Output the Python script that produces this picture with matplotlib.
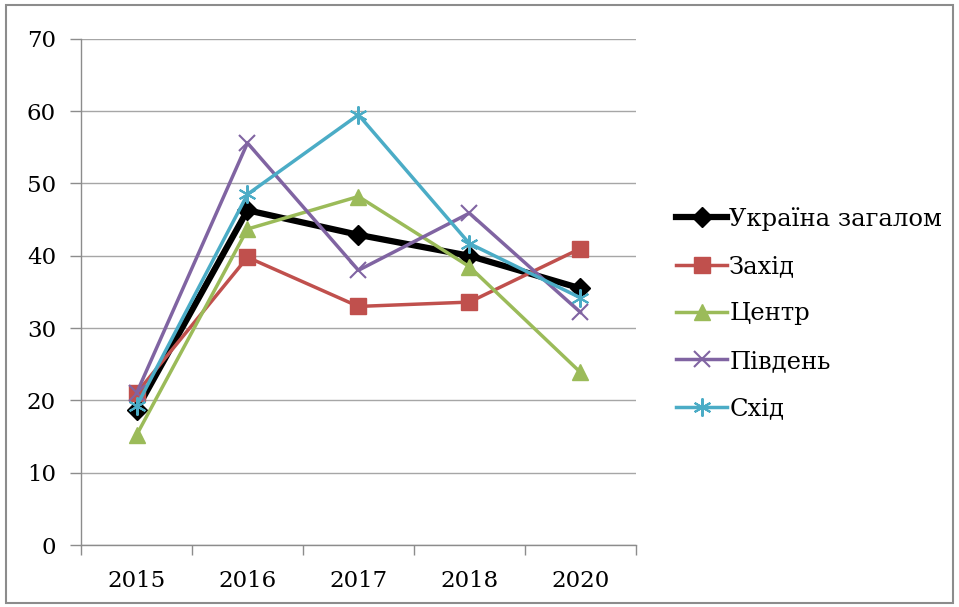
import matplotlib
matplotlib.use("Agg")
import matplotlib.pyplot as plt
from matplotlib.patches import Rectangle
import numpy as np

years = ["2015", "2016", "2017", "2018", "2020"]
ukraine = [18.7, 46.3, 42.9, 40.0, 35.5]
west = [21.0, 39.8, 33.0, 33.6, 41.0]
centre = [15.2, 43.7, 48.2, 38.5, 23.9]
south = [21.0, 55.6, 38.0, 45.9, 32.2]
east = [19.2, 48.5, 59.5, 41.7, 34.2]
series_names = ["Україна загалом", "Захід", "Центр", "Південь", "Схід"]

plt.rcParams['font.family'] = ['DejaVu Serif']

fig = plt.figure(figsize=(9.59, 6.07), dpi=100)
ax = fig.add_axes([0.0845, 0.102, 0.5785, 0.834])

x = np.arange(len(years))
styles = [
    dict(color="black", marker="D", ms=10, lw=4.5, mec="black"),
    dict(color="#C0504D", marker="s", ms=11, lw=2.5),
    dict(color="#9BBB59", marker="^", ms=12, lw=2.5),
    dict(color="#8064A2", marker="x", ms=12, lw=2.5, mew=1.5),
    dict(color="#4BACC6", marker=(6, 2, 0), ms=13, lw=2.5, mew=1.5),
]
data = [ukraine, west, centre, south, east]
for vals, name, st in zip(data, series_names, styles):
    ax.plot(x, vals, label=name, **st)

ax.set_xlim(-0.5, len(years) - 0.5)
ax.set_ylim(0, 70)
ax.set_yticks(range(0, 71, 10))
ax.set_xticks(x)
ax.set_xticklabels(years)
ax.set_xticks(np.arange(-0.5, len(years), 1.0), minor=True)
ax.tick_params(axis='x', which='major', length=0, pad=18, labelsize=16.5)
ax.tick_params(axis='x', which='minor', length=7, color="#8c8c8c", width=1, direction='out')
ax.tick_params(axis='y', length=8, color="#8c8c8c", width=1, pad=10, labelsize=16.5)
ax.grid(axis='y', color="#a6a6a6", lw=1)
ax.set_axisbelow(True)
for s in ['top', 'right']:
    ax.spines[s].set_visible(False)
for s in ['left', 'bottom']:
    ax.spines[s].set_color("#8c8c8c")
    ax.spines[s].set_linewidth(1)

leg = fig.legend(loc='upper left', bbox_to_anchor=(0.695, 0.675), frameon=False,
                 fontsize=17.5, handlelength=2.1, handletextpad=0.08, labelspacing=1.0,
                 borderaxespad=0)

fig.patches.append(Rectangle((0.006, 0.006), 0.988, 0.985, transform=fig.transFigure,
                             fill=False, edgecolor="#8c8c8c", lw=1.5))

fig.savefig("out.png", dpi=100)
